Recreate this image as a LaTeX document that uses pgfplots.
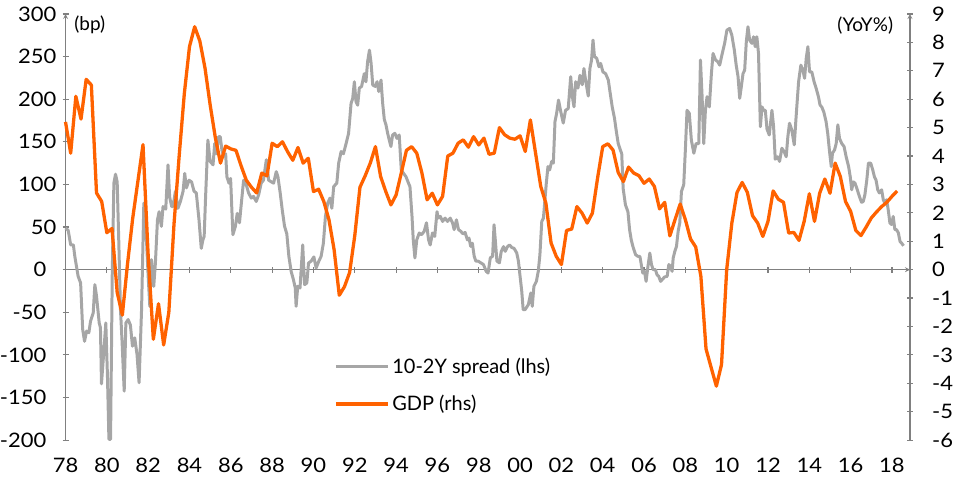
\documentclass[border=0pt]{standalone}
\usepackage{pgfplots}
\pgfplotsset{compat=1.18}
\usepackage{fontspec}
\setmainfont{Lato}
\newfontfamily\tickfont[FakeStretch=1.1]{Lato}
\definecolor{spreadgray}{HTML}{A6A6A6}
\definecolor{ingorange}{HTML}{FF6200}
\definecolor{axisgray}{HTML}{808080}
\begin{document}
\begin{tikzpicture}
\pgfplotsset{
  common/.style={
    scale only axis, width=846.1pt, height=427pt,
    at={(0pt,0pt)}, anchor=south west,
    xmin=1978, xmax=2018.87, clip=false,
    axis line style={draw=axisgray, line width=1.2pt, -},
    tick style={draw=axisgray, line width=1.2pt},
    major tick length=6pt, tick align=outside,
    hide obscured x ticks=false, hide obscured y ticks=false,
    tick label style={font=\tickfont\fontsize{20}{22}\selectfont, text=black},
  }
}
\begin{axis}[common,
  ymin=-200, ymax=300,
  axis x line=middle, axis y line=left,
  xtick={1978,1980,1982,1984,1986,1988,1990,1992,1994,1996,1998,2000,2002,2004,2006,2008,2010,2012,2014,2016,2018},
  xticklabels={78,80,82,84,86,88,90,92,94,96,98,00,02,04,06,08,10,12,14,16,18},
  xticklabel style={anchor=center, yshift=-193pt},
  ytick={-200,-150,-100,-50,0,50,100,150,200,250,300},
  yticklabels={-200\hspace*{10pt},-150\hspace*{10pt},-100\hspace*{10pt},-50\hspace*{10pt},0\hspace*{10pt},50,100,150,200,250,300},
  yticklabel style={anchor=east, inner sep=0pt, xshift=-6pt},
  ylabel={(bp)},
  every axis y label/.style={at={(rel axis cs:0.0288,0.974)}, anchor=center, font=\fontsize{19}{21}\selectfont},
]
\addplot[spreadgray, line width=3pt, line join=round] coordinates {
(1978.00,48.8)(1978.13,46)(1978.25,29)(1978.38,29)(1978.45,15.6)(1978.61,-7.8)(1978.73,-15.6)(1978.83,-70)(1978.92,-84)
(1979.02,-72)(1979.13,-74)(1979.21,-60.5)(1979.34,-50.8)(1979.42,-17.6)(1979.50,-31)(1979.63,-62.5)(1979.69,-68)(1979.74,-134)(1979.86,-94)(1979.95,-62.5)
(1980.03,-125)(1980.10,-199)(1980.18,-199)(1980.26,-7.8)(1980.34,101.5)(1980.42,112)(1980.50,103)(1980.58,31)(1980.66,-47)(1980.74,-86)(1980.84,-142.5)(1980.92,-62.5)
(1981.03,-58.5)(1981.14,-65)(1981.24,-89.8)(1981.35,-80)(1981.46,-99.5)(1981.56,-132.7)(1981.68,-47)(1981.79,78)(1981.88,55)
(1982.00,-7.8)(1982.08,-43)(1982.16,11.7)(1982.27,-19.5)(1982.35,7.8)(1982.45,58.5)(1982.53,68)(1982.64,50.8)(1982.72,74)(1982.85,71)(1982.96,123)
(1983.04,85)(1983.14,74)(1983.20,74)(1983.32,92)(1983.44,72)(1983.56,80)(1983.69,92)(1983.77,113)(1983.85,96)(1983.98,105)
(1984.10,103)(1984.22,92)(1984.33,90)(1984.46,58.5)(1984.57,25)(1984.65,35)(1984.71,39)(1984.78,86)(1984.89,152)
(1985.00,127)(1985.14,123)(1985.22,148)(1985.30,136)(1985.41,156)(1985.49,156)(1985.57,140)(1985.65,133)(1985.75,136)(1985.81,109)(1985.91,101.5)(1985.99,107)
(1986.10,41)(1986.22,50.7)(1986.31,66)(1986.42,55)(1986.51,78)(1986.62,105)(1986.75,99.5)(1986.86,90)(1986.99,84)
(1987.10,86)(1987.23,80)(1987.35,88)(1987.47,101.5)(1987.58,105)(1987.72,129)(1987.83,105)(1987.96,103)
(1988.07,101.5)(1988.20,115)(1988.28,109)(1988.39,90)(1988.49,70)(1988.60,51)(1988.71,42)(1988.81,15.6)(1988.92,-2)
(1989.03,-11.7)(1989.12,-21.5)(1989.16,-43)(1989.24,-19.5)(1989.35,-21.5)(1989.48,29)(1989.57,-17.6)(1989.68,-15.6)(1989.76,7.8)(1989.89,10)
(1990.02,15)(1990.13,2)(1990.26,10)(1990.37,15.6)(1990.48,31)(1990.58,62.5)(1990.69,78)(1990.80,84)(1990.89,72)(1990.98,97.5)
(1991.13,101.5)(1991.22,125)(1991.34,138.6)(1991.45,136)(1991.58,148)(1991.70,160)(1991.82,195)(1991.90,201)(1991.98,220.5)
(1992.06,197)(1992.14,193)(1992.22,213)(1992.33,215)(1992.46,230)(1992.54,220.5)(1992.62,244)(1992.71,257.6)(1992.79,242)(1992.87,216.6)(1992.99,215)
(1993.08,220.5)(1993.16,209)(1993.27,222.5)(1993.35,195)(1993.43,176)(1993.51,170)(1993.59,160)(1993.67,152)(1993.75,144.5)(1993.83,158)(1993.94,160)
(1994.04,154)(1994.15,158)(1994.25,117)(1994.36,113)(1994.48,109)(1994.60,101.5)(1994.67,97.5)(1994.77,62.5)(1994.83,35)(1994.91,13.7)
(1995.00,35)(1995.12,43)(1995.23,41)(1995.36,45)(1995.47,55)(1995.57,35)(1995.65,29)(1995.76,43)(1995.87,39)(1995.98,68)
(1996.04,60.5)(1996.14,62.5)(1996.25,56.6)(1996.37,60.5)(1996.49,56.6)(1996.62,60.5)(1996.73,55)(1996.81,47)(1996.92,58.5)
(1997.02,47)(1997.13,45)(1997.24,42)(1997.34,43.7)(1997.45,35)(1997.53,37)(1997.61,27.3)(1997.69,31)(1997.78,15.6)(1997.86,10)(1997.97,10)
(1998.10,8)(1998.23,6)(1998.36,-2)(1998.45,-4)(1998.56,14)(1998.67,15.6)(1998.74,52.7)(1998.80,35)(1998.88,10)
(1999.00,8)(1999.09,21.5)(1999.20,27)(1999.28,21.5)(1999.39,27)(1999.49,29)(1999.60,26)(1999.71,25)(1999.84,19.5)(1999.92,10)
(2000.00,-7.8)(2000.08,-25)(2000.15,-47)(2000.24,-47)(2000.40,-41)(2000.52,-27.3)(2000.59,-43)(2000.67,-19.5)(2000.79,-13.7)(2000.88,-2)(2000.96,17.6)
(2001.05,56.6)(2001.13,60.5)(2001.19,78)(2001.27,101.5)(2001.35,121)(2001.43,117)(2001.53,127)(2001.61,125)(2001.69,173.7)(2001.77,183.5)(2001.86,199)(2001.97,185.4)
(2002.09,172)(2002.20,187)(2002.33,189)(2002.45,226.4)(2002.53,203)(2002.61,191)(2002.69,220.5)(2002.80,213)(2002.90,228)
(2003.01,217)(2003.09,236)(2003.17,222.5)(2003.30,203.7)(2003.38,236)(2003.46,246)(2003.53,269.4)(2003.60,250)(2003.71,248)(2003.82,238)(2003.90,242)
(2004.01,232)(2004.14,230)(2004.27,222.5)(2004.35,209)(2004.46,191)(2004.57,177.6)(2004.66,162)(2004.75,148)(2004.86,140)(2004.92,136)(2004.99,95)
(2005.10,76)(2005.22,68)(2005.30,47)(2005.38,35)(2005.46,27.3)(2005.59,17.6)(2005.70,15.6)(2005.80,15.6)(2005.88,4)(2005.94,-4)
(2006.02,-2)(2006.10,-13.7)(2006.19,4)(2006.28,19.5)(2006.36,6)(2006.44,0)(2006.55,0)(2006.63,-6)(2006.71,-7.8)(2006.80,-13.7)(2006.88,-11.7)(2006.99,-8.6)
(2007.12,-7.8)(2007.20,6)(2007.28,4)(2007.36,-2)(2007.41,13.7)(2007.49,21.5)(2007.57,27.3)(2007.65,45)(2007.73,55)(2007.81,91.7)(2007.92,99.5)
(2008.00,140.5)(2008.08,187)(2008.19,183.5)(2008.29,152)(2008.41,136.6)(2008.52,148)(2008.65,148)(2008.73,246)(2008.81,203)(2008.89,148)(2008.97,187)
(2009.05,203)(2009.16,191)(2009.26,230)(2009.34,253.7)(2009.46,246)(2009.57,244)(2009.66,240)(2009.77,252)(2009.90,265.5)
(2010.01,281)(2010.14,283)(2010.25,275)(2010.37,257.6)(2010.46,240)(2010.55,226.4)(2010.63,201)(2010.71,215)(2010.79,230)(2010.87,234)(2010.95,267.5)
(2011.03,285)(2011.11,269.4)(2011.22,265.5)(2011.30,273.3)(2011.38,261.6)(2011.46,273.3)(2011.54,253.7)(2011.63,167.8)(2011.71,191)(2011.79,187)(2011.87,187)(2011.95,165)
(2012.06,158)(2012.19,187)(2012.27,168)(2012.35,129.6)(2012.46,132.5)(2012.56,127)(2012.67,142.5)(2012.78,138.6)(2012.88,132.5)(2012.96,156)
(2013.04,171.8)(2013.15,164)(2013.27,146.4)(2013.36,179.5)(2013.48,220.5)(2013.59,240)(2013.69,234)(2013.77,224.5)(2013.85,248)(2013.93,261.6)
(2014.01,232)(2014.12,232)(2014.23,220.5)(2014.33,212.8)(2014.44,203)(2014.52,193)(2014.60,191)(2014.70,185)(2014.81,173.7)(2014.89,160)(2014.97,140.5)
(2015.06,121)(2015.12,136.6)(2015.22,140.5)(2015.30,148)(2015.38,170)(2015.46,154)(2015.57,148)(2015.68,144.5)(2015.78,132.7)(2015.90,121)(2015.98,109)
(2016.05,93.7)(2016.13,103)(2016.21,101.5)(2016.29,96)(2016.37,90)(2016.45,84)(2016.53,79)(2016.61,80)(2016.69,88)(2016.78,105)(2016.86,125)(2016.97,125)
(2017.07,117)(2017.15,109)(2017.23,105)(2017.31,93.7)(2017.39,90)(2017.50,93.7)(2017.58,82)(2017.66,78)(2017.74,82)(2017.82,70)(2017.90,54.7)(2017.98,53)
(2018.06,62.5)(2018.14,47)(2018.22,47)(2018.31,43)(2018.39,33)(2018.47,31)(2018.56,28)
};
\end{axis}
\begin{axis}[common,
  ymin=-6, ymax=9,
  axis x line=none, axis y line=right,
  ytick={-6,-5,-4,-3,-2,-1,0,1,2,3,4,5,6,7,8,9},
  yticklabels={-6,-5,-4,-3,-2,-1,0,1,2,3,4,5,6,7,8,9},
  yticklabel style={anchor=west, inner sep=0pt, xshift=19pt},
  ylabel={(YoY\%)},
  every axis y label/.style={at={(rel axis cs:0.947,0.974)}, anchor=center, font=\fontsize{19}{21}\selectfont},
  legend style={at={(rel axis cs:0.3179,0.1943)}, anchor=north west, draw=none, fill=none,
    font=\fontsize{20}{22}\selectfont, row sep=21pt, inner sep=0pt,
    nodes={inner sep=0pt, text=black}},
  legend cell align=left,
  legend image code/.code={\draw[#1] (0pt,0pt) -- (52pt,0pt);},
  legend columns=1,
]
\addlegendimage{spreadgray, line width=3pt}
\addlegendentry{\hspace*{3pt}10-2Y spread (lhs)}
\addplot[ingorange, line width=3.3pt, line join=round] coordinates {
(1978.00,5.2)(1978.25,4.1)(1978.50,6.1)(1978.75,5.3)
(1979.00,6.7)(1979.25,6.5)(1979.50,2.7)(1979.75,2.4)
(1980.00,1.3)(1980.25,1.45)(1980.50,-0.8)(1980.75,-1.6)
(1981.00,0.2)(1981.25,1.8)(1981.50,3.1)(1981.75,4.4)
(1982.00,0.5)(1982.25,-2.45)(1982.50,-1.2)(1982.75,-2.65)
(1983.00,-1.5)(1983.25,1.6)(1983.50,4.0)(1983.75,6.2)
(1984.00,7.85)(1984.25,8.55)(1984.50,8.05)(1984.75,7.1)
(1985.00,5.8)(1985.25,4.65)(1985.50,3.75)(1985.75,4.35)
(1986.00,4.25)(1986.25,4.2)(1986.50,3.65)(1986.75,3.15)
(1987.00,2.9)(1987.25,2.7)(1987.50,3.4)(1987.75,3.3)
(1988.00,4.45)(1988.25,4.33)(1988.50,4.5)(1988.75,4.15)
(1989.00,3.85)(1989.25,4.3)(1989.50,3.75)(1989.75,3.92)
(1990.00,2.75)(1990.25,2.83)(1990.50,2.4)(1990.75,1.76)
(1991.00,0.7)(1991.25,-0.9)(1991.50,-0.6)(1991.75,-0.1)
(1992.00,1.2)(1992.25,2.9)(1992.50,3.3)(1992.75,3.75)
(1993.00,4.33)(1993.25,3.28)(1993.50,2.75)(1993.75,2.28)
(1994.00,2.63)(1994.25,3.4)(1994.50,4.2)(1994.75,4.33)
(1995.00,4.1)(1995.25,3.4)(1995.50,2.46)(1995.75,2.69)
(1996.00,2.28)(1996.25,2.58)(1996.50,4.0)(1996.75,4.1)
(1997.00,4.45)(1997.25,4.57)(1997.50,4.31)(1997.75,4.68)
(1998.00,4.39)(1998.25,4.63)(1998.50,4.06)(1998.75,4.1)
(1999.00,5.0)(1999.25,4.75)(1999.50,4.63)(1999.75,4.59)
(2000.00,4.71)(2000.25,4.16)(2000.50,5.27)(2000.75,4.1)
(2001.00,2.93)(2001.25,2.34)(2001.50,0.94)(2001.75,0.47)
(2002.00,0.18)(2002.25,1.38)(2002.50,1.43)(2002.75,2.22)
(2003.00,1.99)(2003.25,1.64)(2003.50,1.99)(2003.75,3.22)
(2004.00,4.33)(2004.25,4.43)(2004.50,4.21)(2004.75,3.42)
(2005.00,3.1)(2005.25,3.61)(2005.50,3.4)(2005.75,3.31)
(2006.00,3.04)(2006.25,3.19)(2006.50,2.93)(2006.75,2.14)
(2007.00,2.37)(2007.25,1.19)(2007.50,1.76)(2007.75,2.31)
(2008.00,1.76)(2008.25,1.08)(2008.50,0.8)(2008.75,-0.23)
(2009.00,-2.79)(2009.25,-3.45)(2009.50,-4.1)(2009.75,-3.34)
(2010.00,0.0)(2010.25,1.64)(2010.50,2.72)(2010.75,3.07)
(2011.00,2.72)(2011.25,1.9)(2011.50,1.64)(2011.75,1.17)
(2012.00,1.7)(2012.25,2.77)(2012.50,2.48)(2012.75,2.37)
(2013.00,1.29)(2013.25,1.31)(2013.50,1.03)(2013.75,1.7)
(2014.00,2.67)(2014.25,1.7)(2014.50,2.69)(2014.75,3.19)
(2015.00,2.69)(2015.25,3.75)(2015.50,3.28)(2015.75,2.4)
(2016.00,2.05)(2016.25,1.38)(2016.50,1.2)(2016.75,1.5)
(2017.00,1.82)(2017.25,2.03)(2017.50,2.22)(2017.75,2.37)
(2018.00,2.58)(2018.25,2.77)
};
\addlegendentry{\hspace*{3pt}GDP (rhs)}
\end{axis}
\path (-65.6pt,-51pt) rectangle (887.4pt,441pt);
\end{tikzpicture}
\end{document}
